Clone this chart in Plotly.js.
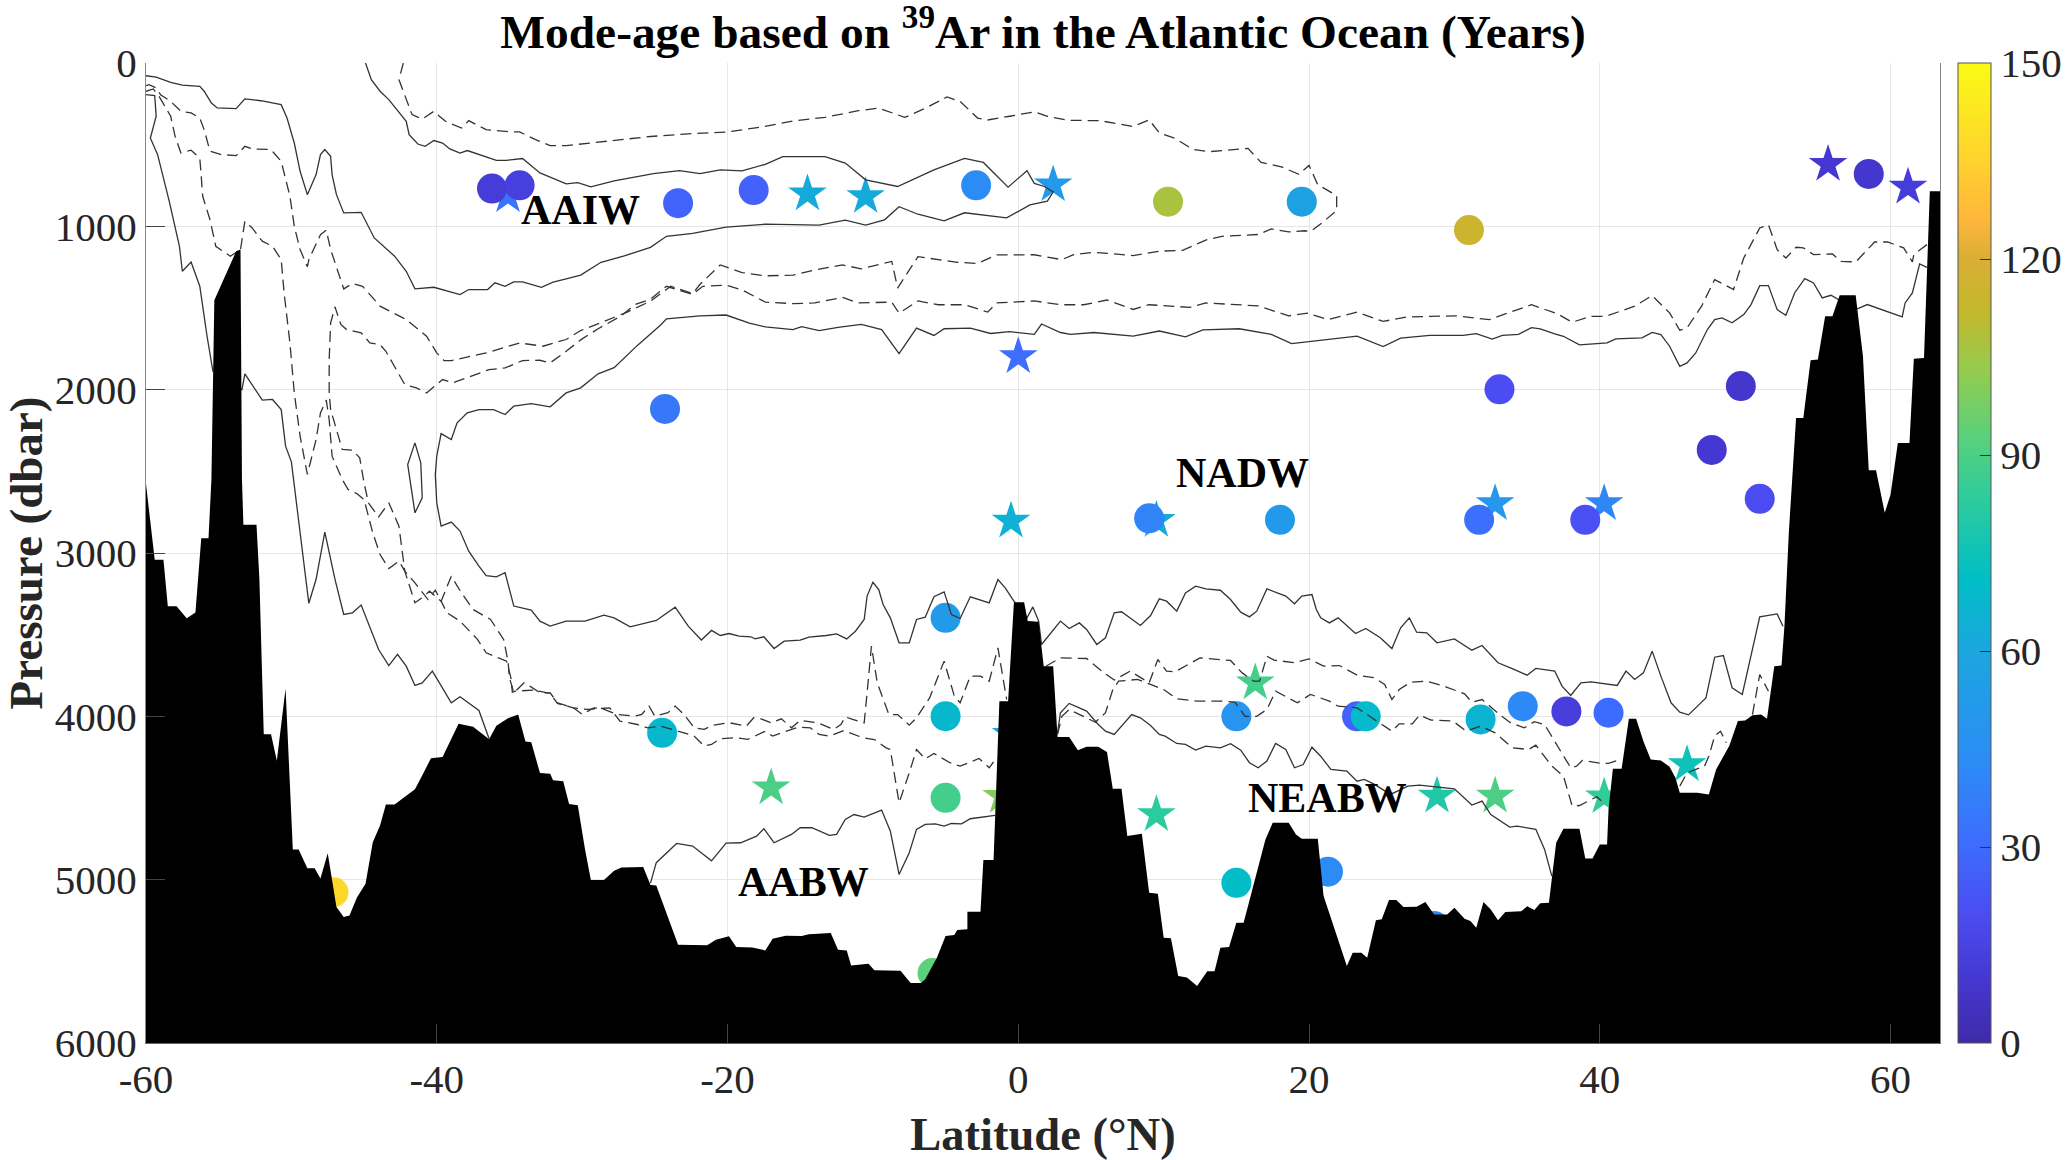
<!DOCTYPE html>
<html>
<head>
<meta charset="utf-8">
<script src="https://cdn.plot.ly/plotly-3.0.1.min.js"></script>
<style>body { margin: 0; background: #fff; }</style>
</head>
<body>
<div id="chart"></div>
<script>
// sample sites: [latitude, pressure, mode-age]
var circleSites = [[-36.2,769,12],[-34.3,749,14],[-23.4,858,28],[-18.2,778,27],[-2.9,749,43],[-24.3,2118,35],
  [10.3,849,107],[19.5,849,57],[31,1023,115],[33.1,1998,20],[49.7,1978,9],[47.7,2369,10],[51,2668,20],
  [39,2797,21],[31.7,2797,32],[18,2797,52],[9,2788,40],[58.5,679,9],[-5,3397,52],[-5,3999,68],[-5,4499,88],
  [-24.5,4101,68],[15,4000,48],[23.3,4000,27],[23.9,4000,69],[31.8,4019,66],[34.7,3938,42],[15,5019,70],
  [21.3,4951,43],[28.6,5284,42],[37.7,3970,13],[40.6,3978,30],[-47.1,5077,137],[-5.9,5572,93]];
var starSites = [[-35.1,812,33],[-14.5,801,62],[-10.5,817,62],[0,1797,31],[-0.5,2804,65],[2.4,745,52],[55.7,620,10],
  [61.2,760,12],[9.5,2800,62],[32.8,2697,50],[40.3,2697,41],[-17,4437,90],[-0.5,4110,62],[-1.15,4490,100],
  [16.3,3795,88],[9.5,4601,83],[28.8,4488,80],[32.8,4488,90],[40.3,4492,84],[46,4295,75]];

// contour lines: [latitude, pressure]
var solidUpper = [[-60,78],[-59.3,86],[-58.3,118],[-57.5,135],[-56.3,143],[-56,173],[-55.5,245],[-55.1,275],[-53.8,279],
  [-53.2,220],[-52.1,231],[-50.7,255],[-50.3,337],[-49.8,490],[-49.4,663],[-48.9,806],[-48.3,683],[-48,561],[-47.7,530],
  [-47.3,571],[-47.2,683],[-46.9,806],[-46.4,918],[-45.2,914],[-44.3,1071],[-42.9,1183],[-42.1,1275],[-41.5,1383],
  [-40.2,1373],[-38.4,1418],[-37.8,1387],[-36.5,1387],[-36,1346],[-35.3,1367],[-34.7,1340],[-34.1,1340],[-32.8,1373],
  [-32,1342],[-31.1,1322],[-30.1,1299],[-28.7,1220],[-27.1,1181],[-25.3,1129],[-24.2,1061],[-22.4,1043],[-20.1,1005],
  [-17.4,987],[-13.7,993],[-11.9,962],[-10.5,993],[-9.2,960],[-8.2,880],[-6.9,926],[-5.1,966],[-3.7,917],[-0.8,948],
  [0.8,869],[2,846],[2.4,790],[1.8,756],[1.1,737],[0.6,659],[-0.7,760],[-2.4,609],[-3.7,584],[-5.8,654],[-8.3,756],
  [-10.5,715],[-11.9,613],[-13.3,573],[-16.2,573],[-17.4,620],[-19,661],[-20.5,654],[-21.9,677],[-23.3,659],[-25.1,677],
  [-27.8,722],[-29.4,758],[-30.3,733],[-31.1,740],[-32.9,673],[-34.1,585],[-35.2,596],[-35.9,596],[-37.1,561],[-37.9,536],
  [-38.4,551],[-39.1,526],[-39.6,490],[-40.2,475],[-40.8,510],[-41.3,496],[-41.9,439],[-42.1,357],[-43.3,224],[-43.9,173],
  [-44.5,102],[-44.9,0]];
var dashedOuter = [[-42.3,0],[-42.6,102],[-41.7,316],[-41,343],[-40.2,296],[-39.4,357],[-38.3,398],[-37.8,353],[-36.6,408],
  [-34.9,422],[-34.3,422],[-33.2,469],[-32.2,506],[-31.1,506],[-25.3,450],[-22.4,432],[-20.1,423],[-17.8,394],[-15.5,355],
  [-13.3,333],[-11,292],[-9.6,276],[-7.8,333],[-6.5,281],[-4.9,208],[-4,235],[-2.8,337],[-2.1,349],[-0.6,326],[1.1,299],
  [2,326],[3.4,351],[5.6,353],[7.9,389],[9,348],[9.7,428],[10.8,462],[12,529],[13.1,543],[15.8,523],[16.7,609],[18.1,636],
  [19.3,681],[20,627],[20.6,745],[21.9,812],[21.9,903],[21,971],[20.1,1032],[19.7,1027],[18.6,1034],[17.4,1016],[16.5,1050],
  [14,1061],[12.9,1084],[11.3,1147],[9.7,1152],[7.9,1179],[5.2,1159],[3.8,1174],[3,1204],[1.1,1174],[-1.5,1175],[-2.8,1227],
  [-4.2,1220],[-6.9,1186],[-8.3,1378],[-8.7,1215],[-10.8,1260],[-12.1,1236],[-13.9,1265],[-15.5,1299],[-17.4,1303],[-19,1283],
  [-20.5,1236],[-21.9,1356],[-22.4,1412],[-23.9,1367],[-25.3,1458],[-26.9,1525],[-28.5,1582],[-30.1,1638],[-31.1,1693],
  [-32.7,1734],[-34.3,1714],[-35.7,1754],[-36.6,1775],[-39,1822],[-39.5,1822],[-40,1775],[-40.7,1673],[-42.1,1571],[-43.9,1489],
  [-45.1,1367],[-45.8,1350],[-46.4,1383],[-46.9,1244],[-47.3,1142],[-47.6,1024],[-48,1051],[-48.8,1204],[-48.9,1248],[-49.4,1142],
  [-49.8,1000],[-50.1,816],[-50.7,602],[-51.2,551],[-51.4,530],[-52.7,526],[-53.2,510],[-53.8,567],[-54.8,561],[-55.6,540],
  [-56,408],[-56.3,337],[-56.9,306],[-57.6,296],[-58.3,235],[-59,194],[-59.3,153],[-59.8,133],[-60,139]];
var dashedDeepUpper = [[-60,173],[-59.5,159],[-59.1,204],[-58.6,275],[-58.3,326],[-58,449],[-57.6,551],[-56.9,534],[-56.3,581],
  [-56.2,694],[-56.1,816],[-55.6,959],[-55.2,1122],[-54.2,1183],[-53.5,1142],[-53.2,969],[-52.7,1010],[-52,1091],[-51.3,1122],
  [-50.7,1204],[-50.5,1408],[-50.1,1714],[-49.8,2020],[-49.4,2285],[-48.9,2519],[-48.3,2305],[-48,2142],[-47.6,2064],[-47.4,2183],
  [-47.2,2407],[-46.5,2550],[-46.1,2611],[-45.5,2636],[-45,2673],[-44.4,2877],[-43.9,3009],[-43.3,3095],[-42.6,3050],[-42.2,3111],
  [-41.5,3183],[-40.6,3285],[-40.1,3227],[-39.7,3295],[-39,3142],[-38.3,3244],[-37.5,3346],[-36.7,3387],[-36.3,3407],[-35.4,3529],
  [-35.1,3662],[-35,3764],[-34.7,3856],[-34,3795],[-33.6,3815],[-32.9,3856],[-32.2,3856],[-31.7,3917],[-30.6,3948],[-30,3988],
  [-29.2,3948],[-28.6,3954],[-27.6,3988],[-26.4,3999],[-25.9,3988],[-25.4,3937],[-25,3999],[-24.1,3978],[-23.6,3937],[-23,3988],
  [-22.3,4070],[-21.6,4080],[-21,4054],[-19.9,4039],[-18.7,4060],[-18.2,4009],[-17.7,4015],[-17,4040],[-16.3,4015],[-15.6,4070],
  [-15,4025],[-13.8,4040],[-12.7,4080],[-12.2,4050],[-11.9,4003],[-11.4,4019],[-10.6,4040],[-10.4,3856],[-10.1,3570],[-9.7,3795],
  [-8.9,3989],[-8.3,3989],[-7.5,4054],[-7,4009],[-6.1,3887],[-5.1,3662],[-4.4,3876],[-4,3917],[-3.3,3754],[-2.6,3754],[-2,3785],
  [-1.4,3581],[-0.8,3897]];
var dashedDeepLower = [[62.5,1112],[61.6,1173],[61.5,1218],[60.9,1132],[59.8,1096],[58.9,1096],[57.6,1218],[56.6,1214],[56,1169],
  [54.7,1173],[54,1132],[53.5,1128],[52.8,1194],[52.2,1143],[51.6,990],[51,1010],[49.9,1194],[49.2,1387],[47.9,1326],[47,1489],
  [46,1622],[45.5,1636],[44.8,1530],[43.6,1424],[42.4,1489],[40.4,1551],[39.4,1551],[38.1,1587],[37.1,1536],[35.9,1500],[35.3,1480],
  [32.4,1571],[30.1,1548],[26.7,1555],[25.1,1582],[23.3,1525],[21.3,1571],[19.9,1532],[18.6,1548],[16.5,1487],[12.9,1469],[11.8,1496],
  [9,1480],[7.9,1509],[6.1,1451],[4.5,1480],[2.9,1480],[1.1,1457],[-1.5,1469],[-2.1,1525],[-3.7,1480],[-5.5,1480],[-6.9,1457],
  [-8.2,1532],[-8.7,1464],[-11,1469],[-12.1,1435],[-14,1469],[-15.5,1473],[-17.4,1464],[-19,1389],[-20.1,1360],[-21.7,1367],
  [-22.4,1417],[-24.2,1367],[-25.3,1446],[-26.4,1480],[-27.3,1548],[-28.9,1627],[-30.1,1695],[-31.1,1765],[-32.2,1836],[-32.9,1820],
  [-34.1,1822],[-35.3,1867],[-36.4,1877],[-38.9,1958],[-39.6,1938],[-40.7,2020],[-41.4,1989],[-42.2,1969],[-43.5,1765],[-43.9,1724],
  [-44.6,1714],[-45.2,1652],[-46.2,1632],[-46.6,1601],[-47,1493],[-47.3,1591],[-47.4,1816],[-47.4,2020],[-47.3,2122],[-46.9,2244],
  [-46.5,2366],[-45.8,2370],[-45.3,2417],[-45,2571],[-44.7,2693],[-44,2779],[-43.3,2693],[-42.6,2836],[-42.2,3111],[-41.5,3305],
  [-41,3274],[-40.5,3234],[-39.7,3295],[-39.3,3366],[-38.4,3417],[-37.2,3529],[-36.6,3611],[-35.2,3662],[-34.9,3764],[-34.8,3852],
  [-34.6,3846],[-33.3,3839],[-32.2,3860],[-31.7,3921],[-30.6,3948],[-29.6,3958],[-28.6,3954],[-28.1,3948],[-27.4,4029],[-26.2,4050],
  [-25.5,4070],[-24.6,4060],[-23,4101],[-22.3,4121],[-21.6,4182],[-21.1,4172],[-20.5,4137],[-19.4,4131],[-18.6,4141],[-17.8,4111],
  [-17.4,4091],[-16.9,4121],[-16.3,4101],[-15.1,4066],[-14.3,4070],[-13.7,4111],[-13,4121],[-12,4087],[-10.7,4131],[-9.9,4142],
  [-9.1,4193],[-8.8,4203],[-8.2,4529],[-7.5,4346],[-7,4203],[-6.4,4260],[-5.8,4227],[-4.7,4284],[-4,4305],[-2.7,4258],[-2,4315],
  [-1.5,4254]];
var dashedEastUpper = [[1.9,3693],[2.9,3642],[4.7,3646],[5.9,3734],[6.6,3778],[7.7,3723],[9,3795],[9.6,3652],[10.2,3723],[10.8,3727],
  [12.5,3642],[14.6,3658],[15.4,3734],[16.2,3785],[16.6,3785],[17.1,3632],[17.6,3656],[19,3672],[20,3648],[21,3693],[22.1,3689],
  [23.3,3748],[24.5,3764],[25.2,3805],[25.7,3897],[26.2,3836],[27,3791],[28.1,3785],[29.4,3819],[30.7,3862],[31.2,3913],[31.9,3897],
  [33.1,3989],[33.8,4036],[34.8,4070],[35.5,4033],[36.2,4050],[37.1,4182],[38,4315],[38.4,4305],[38.8,4270],[40.1,4288],[40.6,4288],[41.2,4270]];
var dashedEastLower = [[2.7,4111],[3,4000],[3.5,3958],[5.3,4036],[6,3978],[6.5,3836],[6.9,3785],[8.2,3774],[9.1,3805],[10,3836],
  [10.9,3893],[12.3,3907],[14,3907],[14.9,3913],[15.6,4000],[16.4,4000],[17.1,3958],[17.7,3846],[19.2,3917],[20.1,3866],[21.4,3907],
  [22,3938],[23.3,3948],[24.7,4033],[25.7,4091],[26.2,4046],[27.1,4046],[27.6,3993],[28.4,4023],[29.9,4029],[30.8,4091],[31.8,4060],
  [32.8,4101],[34,4193],[35.1,4203],[35.6,4176],[36.7,4305],[37.5,4366],[38,4509],[38.1,4550],[38.6,4546],[39.8,4492],[40.4,4543]];
var dashedBasin = [[45.5,4427],[46,4346],[47.2,4305],[47.5,4244],[47.9,4121],[48.3,4091],[48.7,4162]];
var dashedSlope = [[50.5,3989],[51,3744],[51.6,3846]];
var solidMiddle = [[62.5,1251],[62,1230],[61.5,1408],[61,1469],[60.8,1555],[58.4,1479],[57.6,1510],[56.4,1449],[55.9,1422],[55.3,1438],
  [54.7,1347],[54.1,1320],[53.4,1408],[52.8,1545],[52.2,1510],[51.6,1363],[51,1363],[50.4,1479],[49.9,1540],[49.1,1591],[48.4,1561],
  [47.9,1571],[47.4,1632],[46.6,1775],[46,1836],[45.5,1857],[44.8,1734],[44.2,1663],[43.6,1649],[42.9,1683],[41.1,1689],[40.5,1714],
  [38.6,1726],[37.5,1673],[36.9,1659],[35.9,1628],[35.3,1620],[34.4,1661],[33.3,1668],[32.6,1690],[31.5,1657],[30.6,1668],[28.3,1668],
  [26.3,1684],[25.1,1736],[23.3,1672],[21,1695],[18.8,1718],[17.4,1661],[15.2,1627],[12.7,1634],[11.5,1677],[9.7,1641],[7.9,1672],
  [5.2,1650],[3.6,1661],[2.9,1650],[1.6,1598],[1.1,1661],[-0.6,1645],[-1.9,1656],[-3.3,1623],[-5.1,1627],[-5.8,1668],[-7,1623],
  [-8.2,1779],[-9.4,1632],[-10.8,1600],[-12.4,1618],[-13.7,1638],[-14.9,1614],[-15.5,1632],[-17.4,1616],[-18.5,1593],[-20.1,1543],
  [-21.9,1548],[-24.2,1566],[-24.6,1604],[-26.2,1729],[-27.8,1865],[-28.9,1903],[-30.1,1989],[-31.1,2020],[-32.2,2105],[-33.5,2085],
  [-34.7,2101],[-35.3,2152],[-36.1,2122],[-37.1,2122],[-37.9,2142],[-38.6,2203],[-39,2305],[-39.7,2269],[-40,2407],[-40.1,2520],
  [-40,2693],[-39.7,2836],[-39,2811],[-38.4,2866],[-37.8,2989],[-37.1,3081],[-36.6,3138],[-35.9,3146],[-35.3,3121],[-34.7,3325],
  [-33.5,3350],[-32.9,3417],[-32.2,3448],[-31.1,3417],[-29.8,3417],[-28.5,3380],[-27.8,3397],[-26.7,3452],[-24.9,3413],[-23.6,3332],
  [-22.7,3448],[-21.8,3533],[-21.1,3474],[-20.5,3505],[-19.9,3493],[-19.2,3509],[-18.4,3513],[-18.1,3526],[-17.5,3513],[-16.8,3585],
  [-16.1,3540],[-15,3534],[-14.4,3515],[-13.2,3505],[-12.5,3495],[-11.8,3526],[-11.2,3479],[-10.6,3407],[-10.4,3264],[-10,3179],
  [-9.6,3224],[-9.3,3315],[-8.8,3397],[-8.2,3550],[-7.5,3550],[-7,3407],[-6.4,3393],[-5.8,3268],[-5.1,3238],[-4.6,3377],[-4,3401],
  [-3.3,3268],[-2,3305],[-1.4,3162],[-0.9,3213],[-0.3,3295],[0.6,3397],[1,3330],[1.4,3417],[1.6,3560],[2.9,3417],[3.5,3462],[4.2,3428],
  [4.7,3468],[5.4,3560],[6,3519],[6.6,3366],[7.1,3360],[8.4,3444],[9.1,3383],[9.7,3281],[10.2,3295],[10.9,3356],[11.5,3244],[12.2,3203],
  [12.9,3220],[13.9,3228],[14.6,3285],[15.3,3362],[15.9,3391],[16.4,3356],[17.1,3220],[18.4,3264],[19,3311],[19.5,3264],[20.2,3254],
  [20.5,3346],[20.8,3397],[21.4,3428],[22,3397],[23.2,3493],[23.9,3462],[24.9,3519],[25.7,3585],[26.3,3458],[26.9,3397],[27.4,3485],
  [28.1,3489],[28.8,3550],[30,3526],[31.2,3595],[31.9,3566],[33,3672],[34.1,3713],[35,3748],[35.6,3707],[36.9,3723],[37.4,3815],
  [38,3872],[38.7,3795],[39.4,3789],[41.2,3811],[41.8,3723],[42.4,3774],[43,3734],[43.6,3601],[44.2,3754],[44.9,3917],[45.5,3974],
  [46.1,3991],[47.3,3887],[47.9,3638],[48.5,3628],[49.1,3825],[49.8,3866],[51,3391],[52.2,3373],[52.6,3448]];
var solidSouth = [[-60,194],[-59.4,200],[-59.3,326],[-59.7,459],[-59.2,561],[-58.4,847],[-57.7,1122],[-57.5,1275],[-56.9,1218],[-56.3,1367],
  [-55.8,1673],[-55.4,1887],[-53.4,2000],[-53.2,1903],[-52,2064],[-51.3,2060],[-50.7,2122],[-50.4,2346],[-50,2442],[-49,3161],[-48.8,3308],
  [-48.3,3161],[-47.7,2872],[-47,3161],[-46.65,3285],[-46.4,3376],[-45.8,3366],[-45.2,3319],[-44,3591],[-43.3,3689],[-42.7,3621],[-42.1,3693],
  [-41.5,3811],[-41,3795],[-40.3,3723],[-39.5,3846],[-39,3917],[-38.4,3880],[-37.1,3964],[-36.4,4137]];
var solidLoop = [[-41.5,2326],[-41.1,2448],[-41,2662],[-41.5,2754],[-42,2458],[-41.5,2326]];
var solidAabw = [[-25.3,5021],[-24.9,4896],[-23.5,4778],[-22.4,4794],[-21.1,4885],[-20.1,4776],[-19.1,4774],[-18,4734],[-17.5,4688],[-16.8,4774],
  [-15.6,4723],[-15,4682],[-14.2,4682],[-13,4729],[-12.5,4723],[-11.9,4631],[-11.3,4601],[-10.6,4617],[-9.4,4574],[-8.8,4703],[-8.2,4968],
  [-7.5,4835],[-7,4692],[-6.4,4662],[-5.7,4658],[-5.1,4672],[-4.6,4656],[-3.9,4658],[-3.3,4627],[-1.6,4607]];
var solidEast = [[2.7,4101],[2.9,3978],[3.5,3921],[4.7,3968],[5.5,4050],[6,4091],[6.6,4111],[7.8,3989],[8.4,4009],[9.1,4056],[9.7,4111],
  [10.1,4121],[10.9,4166],[11.5,4172],[12.2,4207],[12.9,4182],[13.9,4193],[14.6,4168],[15.3,4207],[15.9,4284],[16.5,4315],[17.1,4274],
  [17.7,4166],[18.4,4203],[19,4315],[19.6,4295],[20.2,4189],[20.8,4244],[21.5,4325],[22.6,4335],[23.3,4397],[23.8,4386],[24.5,4417],
  [25.6,4478],[26.8,4427],[27.6,4421],[30,4444],[31.2,4543],[31.9,4519],[32.5,4601],[33.8,4678],[34.3,4672],[35.6,4692],[36.2,4815],[36.7,4978]];

// bottom topography: [latitude, pressure]
var bathymetry = [[-60,2578],[-59.4,3042],[-58.8,3042],[-58.5,3326],[-57.9,3326],[-57.2,3399],[-56.6,3365],[-56.2,2910],[-55.7,2910],[-55.5,2550],
  [-55.3,1453],[-53.8,1153],[-53.5,1142],[-53.4,2550],[-53.3,2827],[-52.4,2827],[-52.2,3161],[-51.9,4109],[-51.4,4109],[-51,4272],[-50.4,3830],
  [-49.9,4816],[-49.5,4816],[-48.9,4930],[-48.4,4930],[-48,4993],[-47.5,4839],[-46.9,5168],[-46.4,5229],[-46,5220],[-45.5,5111],[-44.9,5025],
  [-44.4,4771],[-43.9,4669],[-43.5,4540],[-42.9,4540],[-42.3,4499],[-41.5,4447],[-41,4363],[-40.4,4256],[-39.6,4249],[-38.9,4113],[-38.5,4045],
  [-37.5,4064],[-36.4,4141],[-35.9,4057],[-35.1,4011],[-34.4,3989],[-33.9,4154],[-33.5,4159],[-32.9,4347],[-32.2,4352],[-32,4392],[-31.3,4397],
  [-30.9,4537],[-30.3,4544],[-29.8,4816],[-29.4,5002],[-28.5,5002],[-27.8,4946],[-27.3,4925],[-25.8,4923],[-25.3,5032],[-24.9,5036],[-23.9,5270],
  [-23.4,5399],[-21.4,5402],[-20.8,5368],[-19.9,5347],[-19.4,5413],[-18.3,5415],[-17.4,5433],[-16.9,5361],[-16,5343],[-14.9,5345],[-14.4,5334],
  [-12.9,5327],[-12.4,5429],[-11.8,5433],[-11.5,5526],[-10.3,5515],[-9.9,5554],[-8.1,5558],[-7.4,5633],[-6.7,5633],[-6.4,5610],[-5.6,5478],
  [-5,5345],[-4.4,5339],[-4.2,5308],[-3.5,5304],[-3.5,5196],[-2.6,5196],[-2.4,4880],[-1.7,4880],[-1.3,3907],[-0.7,3907],[-0.3,3301],[0.4,3301],
  [0.65,3417],[1.4,3421],[1.75,3693],[2.4,3693],[2.7,4127],[3.5,4127],[4.1,4207],[4.7,4186],[5.5,4186],[6.1,4219],[6.5,4444],[7.1,4444],[7.5,4733],
  [8.5,4719],[9,5080],[9.6,5086],[10,5355],[10.5,5359],[11,5590],[11.6,5599],[12.3,5651],[13,5560],[13.5,5560],[13.9,5417],[14.5,5413],[15,5264],
  [15.5,5264],[17,4754],[17.5,4652],[18.6,4652],[19.1,4723],[19.5,4750],[20.6,4750],[21,5100],[22.1,5386],[22.6,5529],[23,5447],[23.6,5447],[24,5478],
  [24.6,5249],[25,5243],[25.5,5125],[26,5125],[26.5,5168],[27.4,5166],[28,5137],[28.6,5213],[29.5,5213],[30,5172],[30.7,5239],[31.1,5253],[31.5,5294],
  [32,5137],[32.5,5182],[33,5249],[33.5,5198],[34.6,5194],[35,5162],[35.5,5186],[35.9,5145],[36.5,5141],[36.7,4978],[37,4774],[37.5,4688],[38.6,4688],
  [39,4870],[39.5,4870],[40,4784],[40.5,4784],[40.6,4570],[40.9,4321],[41.5,4321],[42,4015],[42.5,4015],[43,4152],[43.5,4264],[44.2,4270],[44.8,4309],
  [45.2,4376],[45.5,4468],[46.7,4468],[47.5,4478],[48,4325],[48.9,4182],[49.5,4029],[50,4025],[50.5,3993],[51.1,3989],[51.5,4015],[52,3693],[52.5,3689],
  [52.7,3448],[53,2877],[53.5,2173],[54,2173],[54.5,1820],[55,1816],[55.5,1551],[56,1551],[56.5,1422],[57.6,1422],[58.1,1795],[58.5,2493],[59,2493],
  [59.6,2754],[60,2642],[60.5,2326],[61.3,2326],[61.6,1810],[62.3,1806],[62.7,785],[63.4,785]];

var waterMasses = ['AAIW', 'NADW', 'AABW', 'NEABW'];
var waterMassLat = [-30.1, 15.4, -14.8, 21.3];
var waterMassP = [903, 2510, 5016, 4498];

var latTicks = [-60, -40, -20, 0, 20, 40, 60];
var latTickText = ['-60', '-40', '-20', '0', '20', '40', '60'];
var pressureTicks = [0, 1000, 2000, 3000, 4000, 5000, 6000];
var ageTicks = [0, 30, 60, 90, 120, 150];

var ageColors = [[0,'#3f2aa8'],[0.067,'#4538d2'],[0.133,'#4b4df2'],[0.2,'#3e6bff'],[0.287,'#2c8cf5'],[0.4,'#1ba6df'],
  [0.473,'#00bec6'],[0.553,'#2ccb9e'],[0.62,'#5ad17a'],[0.687,'#95cb4e'],[0.747,'#c4b82b'],[0.8,'#d9ae35'],
  [0.84,'#ffb63c'],[0.9,'#ffd22e'],[1,'#fafb14']];

var serif = '"Liberation Serif", "Times New Roman", serif';

function col(rows, i) {
  return rows.map(function (r) { return r[i]; });
}

function contour(rows, dashed) {
  return {
    x: col(rows, 0), y: col(rows, 1),
    mode: 'lines', type: 'scatter', hoverinfo: 'skip',
    line: { color: '#333', width: 1.3, dash: dashed ? '11px,6px' : 'solid' }
  };
}

function sites(rows, symbol, size) {
  return {
    x: col(rows, 0), y: col(rows, 1),
    mode: 'markers', type: 'scatter',
    marker: { symbol: symbol, size: size, color: col(rows, 2), coloraxis: 'coloraxis', line: { width: 0 } }
  };
}

var data = [sites(starSites, 'star', 29), sites(circleSites, 'circle', 30)];
[solidUpper, solidMiddle, solidSouth, solidLoop, solidAabw, solidEast].forEach(function (r) { data.push(contour(r, false)); });
[dashedOuter, dashedDeepUpper, dashedDeepLower, dashedEastUpper, dashedEastLower, dashedBasin, dashedSlope].forEach(function (r) { data.push(contour(r, true)); });

// seabed closes along the bottom of the axis
var floor = pressureTicks[pressureTicks.length - 1];
data.push({
  x: [bathymetry[0][0]].concat(col(bathymetry, 0), [bathymetry[bathymetry.length - 1][0]]),
  y: [floor].concat(col(bathymetry, 1), [floor]),
  mode: 'lines', type: 'scatter', fill: 'toself', fillcolor: '#000',
  line: { width: 0, color: '#000' }, hoverinfo: 'skip'
});

var labels = waterMasses.map(function (name, i) {
  return {
    text: name, x: waterMassLat[i], y: waterMassP[i], showarrow: false,
    font: { family: serif, size: 42, color: '#000', weight: 700 }
  };
});

var layout = {
  width: 2067, height: 1160,
  margin: { l: 146, r: 127, t: 63, b: 117, autoexpand: false },
  paper_bgcolor: '#fff', plot_bgcolor: '#fff',
  showlegend: false,
  font: { family: serif, color: '#262626' },
  title: {
    text: 'Mode-age based on <sup>39</sup>Ar in the Atlantic Ocean (Years)',
    font: { family: serif, size: 47.4, color: '#000', weight: 700 },
    x: 0.5, xref: 'paper', xanchor: 'center', y: 0.973, yref: 'container', yanchor: 'middle'
  },
  xaxis: {
    range: [-60, 63.4], tickmode: 'array', tickvals: latTicks, ticktext: latTickText,
    ticks: 'inside', ticklen: 19, tickcolor: '#444',
    showgrid: true, gridcolor: '#e6e6e6', zeroline: false,
    showline: true, linecolor: '#666', linewidth: 1,
    tickfont: { family: serif, size: 41, color: '#262626' },
    title: { text: 'Latitude (°N)', standoff: 17, font: { family: serif, size: 46.5, color: '#262626', weight: 700 } }
  },
  yaxis: {
    range: [6000, 0], tickmode: 'array', tickvals: pressureTicks,
    ticks: 'inside', ticklen: 19, tickcolor: '#444',
    showgrid: true, gridcolor: '#e6e6e6', zeroline: false,
    showline: true, linecolor: '#888', linewidth: 1, mirror: true,
    tickfont: { family: serif, size: 41, color: '#262626' },
    title: { text: 'Pressure (dbar)', standoff: 16, font: { family: serif, size: 47, color: '#262626', weight: 700 } }
  },
  coloraxis: {
    cmin: 0, cmax: 150, colorscale: ageColors,
    colorbar: {
      x: 1.01, xanchor: 'left', y: 0.5, yanchor: 'middle', len: 1, lenmode: 'fraction',
      thickness: 33, thicknessmode: 'pixels', xpad: 0, ypad: 0,
      tickmode: 'array', tickvals: ageTicks, ticks: 'inside', ticklen: 11, tickcolor: '#333', tickwidth: 1,
      outlinecolor: '#555', outlinewidth: 1,
      tickfont: { family: serif, size: 41, color: '#262626' }
    }
  },
  annotations: labels
};

Plotly.newPlot('chart', data, layout, { displayModeBar: false });
</script>
</body>
</html>
